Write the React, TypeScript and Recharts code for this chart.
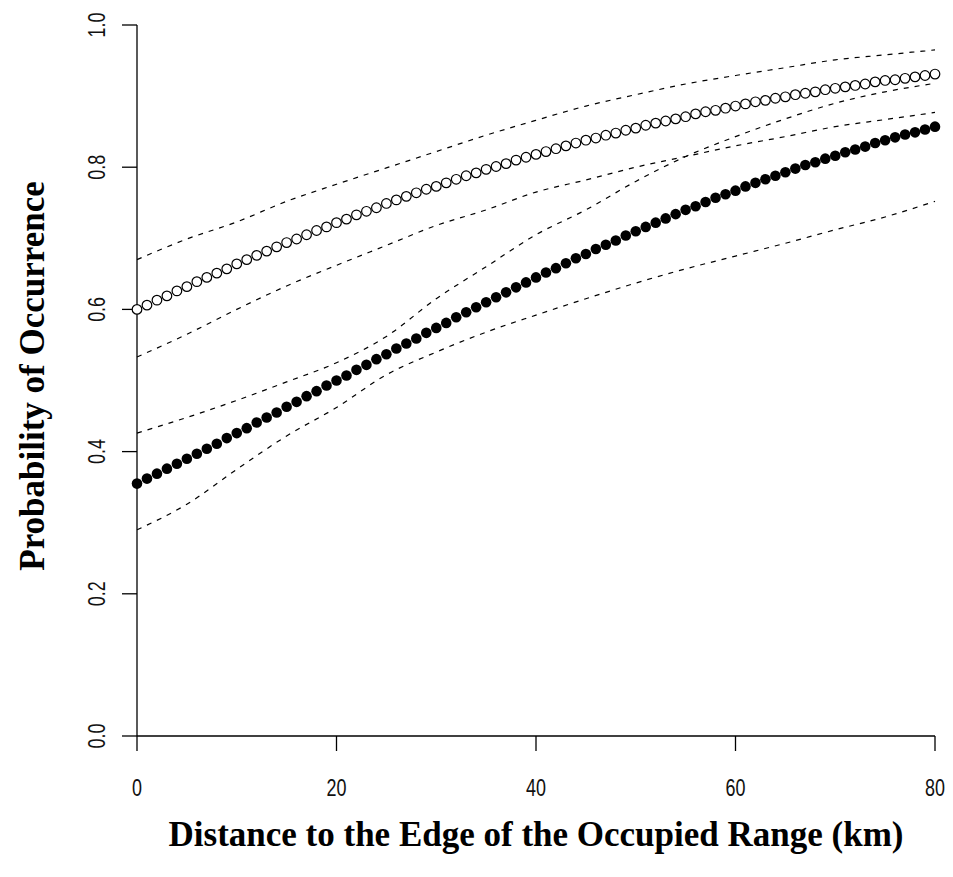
import React from 'react';
import { ComposedChart, Line, Scatter, XAxis, YAxis } from 'recharts';

// distance to the edge of the occupied range (km), one point per km
const distanceKm = [
  0, 1, 2, 3, 4, 5, 6, 7, 8, 9, 10, 11, 12, 13, 14, 15, 16, 17, 18, 19, 20,
  21, 22, 23, 24, 25, 26, 27, 28, 29, 30, 31, 32, 33, 34, 35, 36, 37, 38, 39, 40,
  41, 42, 43, 44, 45, 46, 47, 48, 49, 50, 51, 52, 53, 54, 55, 56, 57, 58, 59, 60,
  61, 62, 63, 64, 65, 66, 67, 68, 69, 70, 71, 72, 73, 74, 75, 76, 77, 78, 79, 80,
];

// open circles
const openMean = [
  0.600, 0.606, 0.613, 0.619, 0.626, 0.632, 0.639, 0.645, 0.651, 0.657, 0.664,
  0.670, 0.676, 0.682, 0.688, 0.694, 0.699, 0.705, 0.711, 0.716, 0.722,
  0.727, 0.733, 0.738, 0.743, 0.749, 0.754, 0.759, 0.764, 0.769, 0.773,
  0.778, 0.783, 0.788, 0.792, 0.797, 0.801, 0.805, 0.810, 0.814, 0.818,
  0.822, 0.826, 0.830, 0.834, 0.838, 0.841, 0.845, 0.848, 0.852, 0.855,
  0.859, 0.862, 0.865, 0.868, 0.871, 0.875, 0.878, 0.880, 0.883, 0.886,
  0.889, 0.892, 0.894, 0.897, 0.899, 0.902, 0.904, 0.906, 0.909, 0.911,
  0.913, 0.915, 0.917, 0.920, 0.922, 0.923, 0.925, 0.927, 0.929, 0.931,
];

// filled circles
const filledMean = [
  0.355, 0.362, 0.369, 0.376, 0.383, 0.390, 0.397, 0.404, 0.411, 0.419, 0.426,
  0.433, 0.441, 0.448, 0.455, 0.463, 0.470, 0.478, 0.485, 0.493, 0.500,
  0.507, 0.515, 0.522, 0.530, 0.537, 0.545, 0.552, 0.559, 0.567, 0.574,
  0.581, 0.589, 0.596, 0.603, 0.610, 0.617, 0.624, 0.631, 0.638, 0.645,
  0.652, 0.658, 0.665, 0.672, 0.678, 0.685, 0.691, 0.697, 0.704, 0.710,
  0.716, 0.722, 0.728, 0.734, 0.740, 0.745, 0.751, 0.757, 0.762, 0.767,
  0.773, 0.778, 0.783, 0.788, 0.793, 0.798, 0.803, 0.807, 0.812, 0.816,
  0.821, 0.825, 0.829, 0.834, 0.838, 0.842, 0.846, 0.849, 0.853, 0.857,
];

// dashed confidence bands
const bandKm = [0, 5, 10, 15, 20, 25, 30, 35, 40, 45, 50, 55, 60, 65, 70, 75, 80];
const openUpper = [0.670, 0.699, 0.723, 0.752, 0.776, 0.799, 0.822, 0.845, 0.866, 0.886, 0.902, 0.917, 0.929, 0.940, 0.951, 0.958, 0.965];
const openLower = [0.533, 0.565, 0.600, 0.633, 0.662, 0.690, 0.718, 0.740, 0.765, 0.782, 0.800, 0.815, 0.830, 0.843, 0.857, 0.867, 0.877];
const filledUpper = [0.426, 0.448, 0.472, 0.498, 0.525, 0.562, 0.615, 0.660, 0.705, 0.740, 0.780, 0.815, 0.843, 0.868, 0.890, 0.906, 0.918];
const filledLower = [0.290, 0.326, 0.375, 0.422, 0.462, 0.508, 0.540, 0.568, 0.592, 0.615, 0.637, 0.657, 0.675, 0.693, 0.712, 0.730, 0.752];

const xTicks = [0, 20, 40, 60, 80];
const yTicks = [0, 0.2, 0.4, 0.6, 0.8, 1.0];

const W = 953;
const H = 877;
const TICK_FONT = "'Liberation Sans', Arial, sans-serif";
const TITLE_FONT = "'Liberation Serif', 'Times New Roman', serif";

const toPoints = (xs: number[], ys: number[]) => xs.map((x, i) => ({ x, y: ys[i] }));

const openPts = toPoints(distanceKm, openMean);
const filledPts = toPoints(distanceKm, filledMean);
const bands = [openUpper, openLower, filledUpper, filledLower].map((b) => toPoints(bandKm, b));

// tick labels are tall and narrow in the original, so squeeze them a bit
const XTick = (props: any) => {
  const { x, y, payload } = props;
  return (
    <text
      transform={`translate(${x},${y + 43}) scale(0.78,1)`}
      textAnchor="middle"
      fontFamily={TICK_FONT}
      fontSize={23}
      fill="#111"
    >
      {payload.value}
    </text>
  );
};

const YTick = (props: any) => {
  const { x, y, payload } = props;
  return (
    <text
      transform={`translate(${x - 15},${y}) rotate(-90) scale(0.78,1)`}
      textAnchor="middle"
      fontFamily={TICK_FONT}
      fontSize={23}
      fill="#111"
    >
      {Number(payload.value).toFixed(1)}
    </text>
  );
};

const OpenDot = (p: any) => (
  <circle cx={p.cx} cy={p.cy} r={4.8} fill="#fff" stroke="#000" strokeWidth={1.2} />
);
const FilledDot = (p: any) => <circle cx={p.cx} cy={p.cy} r={5.3} fill="#000" />;

export default function App() {
  return (
    <div style={{ position: 'absolute', left: 0, top: 0, width: W, height: H, background: '#fff' }}>
      <ComposedChart width={W} height={H} margin={{ top: 25, right: 18, left: 0, bottom: 0 }}>
        <XAxis
          type="number"
          dataKey="x"
          domain={[0, 80]}
          ticks={xTicks}
          height={141}
          tickSize={15}
          axisLine={{ stroke: '#000', strokeWidth: 1.3 }}
          tickLine={{ stroke: '#000', strokeWidth: 1.3 }}
          tick={<XTick />}
        />
        <YAxis
          type="number"
          dataKey="y"
          domain={[0, 1]}
          ticks={yTicks}
          width={137}
          tickSize={15}
          axisLine={{ stroke: '#000', strokeWidth: 1.3 }}
          tickLine={{ stroke: '#000', strokeWidth: 1.3 }}
          tick={<YTick />}
        />
        {bands.map((b, i) => (
          <Line
            key={i}
            data={b}
            dataKey="y"
            type="monotone"
            stroke="#000"
            strokeWidth={1.2}
            strokeDasharray="5 6"
            dot={false}
            activeDot={false}
            isAnimationActive={false}
          />
        ))}
        <Scatter data={openPts} shape={<OpenDot />} isAnimationActive={false} />
        <Scatter data={filledPts} shape={<FilledDot />} isAnimationActive={false} />
      </ComposedChart>
      <svg
        width={W}
        height={H}
        style={{ position: 'absolute', left: 0, top: 0, pointerEvents: 'none' }}
      >
        <text x={536} y={846} textAnchor="middle" fontFamily={TITLE_FONT} fontWeight="bold" fontSize={35} fill="#000">
          Distance to the Edge of the Occupied Range (km)
        </text>
        <text
          transform="translate(44,376) rotate(-90)"
          textAnchor="middle"
          fontFamily={TITLE_FONT}
          fontWeight="bold"
          fontSize={35}
          fill="#000"
        >
          Probability of Occurrence
        </text>
      </svg>
    </div>
  );
}
